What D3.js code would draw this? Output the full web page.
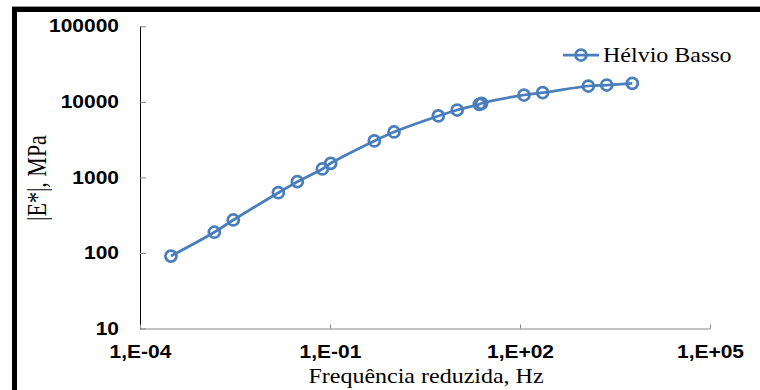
<!DOCTYPE html>
<html>
<head>
<meta charset="utf-8">
<script src="https://cdn.jsdelivr.net/npm/d3@7"></script>
<style>
  body { margin: 0; background: #fff; }
  svg { display: block; }
</style>
</head>
<body>
<script>
// reduced frequency (Hz) and dynamic modulus |E*| (MPa)
var freq = [3.08e-4, 1.49e-3, 2.97e-3, 0.0153, 0.0305, 0.0757, 0.1026, 0.501, 1.025,
            5.13, 10.2, 22.8, 24.8, 115.7, 228, 1199, 2339, 5940];
var modulus = [91, 188, 273, 627, 877, 1292, 1537, 3034, 3990,
               6500, 7800, 9290, 9570, 12320, 13220, 16210, 16710, 17600];
var seriesName = "Hélvio Basso";

var yTicks = [10, 100, 1000, 10000, 100000];
var xTicks = [1e-4, 1e-1, 1e2, 1e5];
var xTickLabels = ["1,E-04", "1,E-01", "1,E+02", "1,E+05"];

var width = 760,
    height = 390;
var blue = "#4a7ebb";
var sx = 1.2; // text in the picture is a bit stretched sideways

var svg = d3.select("body")
    .append("svg")
    .attr("width", width)
    .attr("height", height);

// plot area
var x = d3.scaleLog().domain([1e-4, 1e5]).range([140, 710]);
var y = d3.scaleLog().domain([10, 100000]).range([328.5, 26.3]);

// frame: thick black top and left edges
svg.append("line")
    .attr("x1", 12).attr("x2", width).attr("y1", 6.5).attr("y2", 6.5)
    .attr("stroke", "#999").attr("stroke-width", 1);
svg.append("line")
    .attr("x1", 12).attr("x2", width).attr("y1", 9.5).attr("y2", 9.5)
    .attr("stroke", "#000").attr("stroke-width", 5);
svg.append("line")
    .attr("x1", 14.5).attr("x2", 14.5).attr("y1", 7).attr("y2", height)
    .attr("stroke", "#000").attr("stroke-width", 5);

// y axis
var yAxis = svg.append("g")
    .attr("transform", "translate(140,0)")
    .call(d3.axisLeft(y)
        .tickValues(yTicks)
        .tickFormat(d3.format("d"))
        .tickSizeInner(-6)
        .tickSizeOuter(0)
        .tickPadding(21));
yAxis.select(".domain").attr("stroke", "#000");
yAxis.selectAll(".tick line").attr("stroke", "#7f7f7f");
yAxis.selectAll(".tick text")
    .attr("x", -21 / sx)
    .attr("transform", "scale(" + sx + ",1)")
    .attr("fill", "#000")
    .style("font-family", "'Liberation Sans', Arial, sans-serif")
    .style("font-weight", "bold")
    .style("font-size", "17.5px");

// x axis
var xAxis = svg.append("g")
    .attr("transform", "translate(0,328.5)")
    .call(d3.axisBottom(x)
        .tickValues(xTicks)
        .tickFormat(function(d, i) { return xTickLabels[i]; })
        .tickSizeInner(-4)
        .tickSizeOuter(0)
        .tickPadding(17));
xAxis.select(".domain").attr("stroke", "#868686");
xAxis.selectAll(".tick line").attr("stroke", "#868686");
xAxis.selectAll(".tick text")
    .attr("transform", "scale(" + sx + ",1)")
    .attr("fill", "#000")
    .style("font-family", "'Liberation Sans', Arial, sans-serif")
    .style("font-weight", "bold")
    .style("font-size", "17.5px");

// axis titles
svg.append("text")
    .attr("transform", "translate(46,178) rotate(-90) scale(1," + sx + ")")
    .attr("text-anchor", "middle")
    .style("font-family", "'Liberation Serif', 'Times New Roman', serif")
    .style("font-size", "22px")
    .text("|E*|, MPa");

svg.append("text")
    .attr("transform", "translate(426,383) scale(" + sx + ",1)")
    .attr("text-anchor", "middle")
    .style("font-family", "'Liberation Serif', 'Times New Roman', serif")
    .style("font-size", "20px")
    .text("Frequência reduzida, Hz");

// series
var pts = freq.map(function(f, i) { return [f, modulus[i]]; });

var line = d3.line()
    .x(function(d) { return x(d[0]); })
    .y(function(d) { return y(d[1]); })
    .curve(d3.curveCatmullRom.alpha(0.5));

svg.append("path")
    .datum(pts)
    .attr("d", line)
    .attr("fill", "none")
    .attr("stroke", blue)
    .attr("stroke-width", 2.75);

svg.selectAll(".marker")
    .data(pts)
    .enter()
    .append("circle")
    .attr("class", "marker")
    .attr("cx", function(d) { return x(d[0]); })
    .attr("cy", function(d) { return y(d[1]); })
    .attr("r", 5.5)
    .attr("fill", "none")
    .attr("stroke", blue)
    .attr("stroke-width", 2.75);

// legend
var legend = svg.append("g").attr("transform", "translate(563,55)");
legend.append("line")
    .attr("x1", 0).attr("x2", 36)
    .attr("stroke", blue).attr("stroke-width", 2.75);
legend.append("circle")
    .attr("cx", 18).attr("r", 5.5)
    .attr("fill", "none").attr("stroke", blue).attr("stroke-width", 2.75);
legend.append("text")
    .attr("transform", "translate(40,7) scale(" + sx + ",1)")
    .style("font-family", "'Liberation Serif', 'Times New Roman', serif")
    .style("font-size", "20px")
    .text(seriesName);
</script>
</body>
</html>
